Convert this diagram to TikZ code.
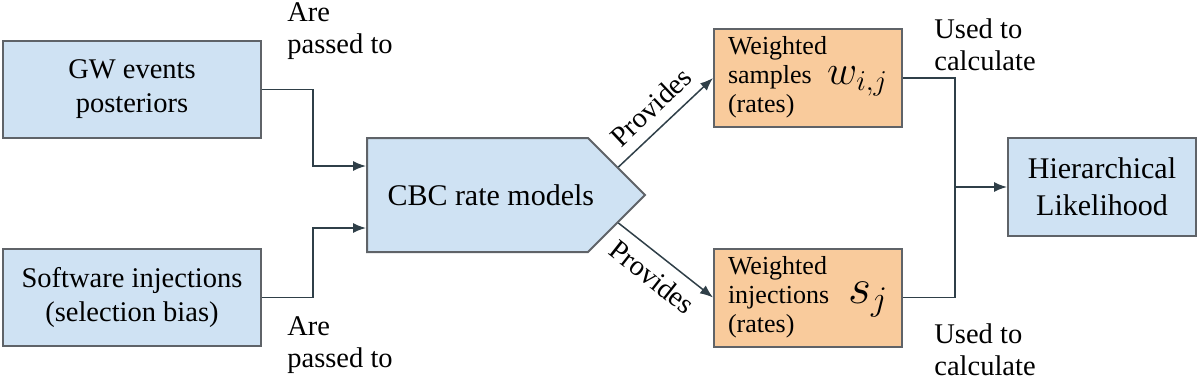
\documentclass[tikz,border=0pt]{standalone}
\usepackage{fontspec}
\setmainfont{Liberation Serif}
\usepackage{amsmath}
\usepackage{xcolor}
\usetikzlibrary{arrows.meta, calc, shapes.symbols}

\definecolor{boxblue}{HTML}{CFE2F3}
\definecolor{boxorange}{HTML}{F9CB9C}
\definecolor{edgegray}{HTML}{5F6368}
\definecolor{linkslate}{HTML}{2F3F48}

\begin{document}
\begin{tikzpicture}[x=0.5pt, y=-0.5pt,
    >=Latex,
    blk/.style={draw=edgegray, fill=boxblue, line width=1pt, minimum width=129pt,
      minimum height=48.5pt, align=center, font=\fontsize{14.25}{17}\selectfont},
    wgt/.style={draw=edgegray, fill=boxorange, line width=1pt, minimum width=94pt,
      minimum height=49pt, inner xsep=7pt, inner ysep=2pt, text width=80pt,
      font=\fontsize{13}{14.5}\selectfont},
    line/.style={draw=linkslate, line width=0.75pt},
    link/.style={line, -{Latex[length=6.5pt, width=5pt]}},
    note/.style={inner sep=0pt, align=left, font=\fontsize{14.25}{16}\selectfont}
  ]
  \useasboundingbox (0,0) rectangle (1200,380);

  % inputs
  \node[blk] (gw) at (132,89.5) {GW events\\posteriors};
  \node[blk] (sw) at (132,297.5) {Software injections\\(selection bias)};

  % rate models
  \node[blk, shape=signal, signal to=east, signal from=nowhere, signal pointer angle=90,
    minimum width=139pt, minimum height=57pt, inner xsep=7.75pt, anchor=west,
    font=\fontsize{15}{17}\selectfont] (cbc) at (366,195)
    {\makebox[95pt][l]{\hspace*{2.5pt}CBC rate models}};

  % weighted outputs
  \node[wgt] (ws) at (808,78) {\begin{tabular}{@{}l@{}}Weighted\\samples\\(rates)\end{tabular}\hfill{\fontsize{21}{22}\selectfont$w_{i,j}$}};
  \node[wgt] (wi) at (808,297.5) {\begin{tabular}{@{}l@{}}Weighted\\injections\\(rates)\end{tabular}\hfill{\fontsize{27}{28}\selectfont$s_{j}$}};

  % likelihood
  \node[blk, minimum width=94pt, minimum height=49pt, font=\fontsize{15}{18.5}\selectfont]
    (hl) at (1102,187) {Hierarchical\\Likelihood};

  % connectors
  \draw[link] (gw.east) -| (313,130) |- ([yshift=14.5pt]cbc.west);
  \draw[link] (sw.east) -| (313,260) |- ([yshift=-16.5pt]cbc.west);
  \draw[link] ([shift={(-28,-28)}]cbc.east) -- (ws.west)
    node[midway, sloped, above=2pt, font=\fontsize{14.25}{16}\selectfont] (pv1) {Provides};
  \draw[link] ([shift={(-28,28)}]cbc.east) -- (wi.west)
    node[midway, sloped, below=2pt, font=\fontsize{14.25}{16}\selectfont] (pv2) {Provides};
  \coordinate (join) at (955,187);
  \draw[line] (ws.east) -| (join);
  \draw[line] (wi.east) -| (join);
  \draw[link] (join) -- (hl.west);

  % labels
  \node[note, anchor=west] (pass1) at (287,31) {Are\\passed to};
  \node[note, anchor=west] (pass2) at (287,345) {Are\\passed to};
  \node[note, anchor=west] (use1) at (934,45) {Used to\\calculate};
  \node[note, anchor=west] (use2) at (934,350) {Used to\\calculate};
\end{tikzpicture}
\end{document}
